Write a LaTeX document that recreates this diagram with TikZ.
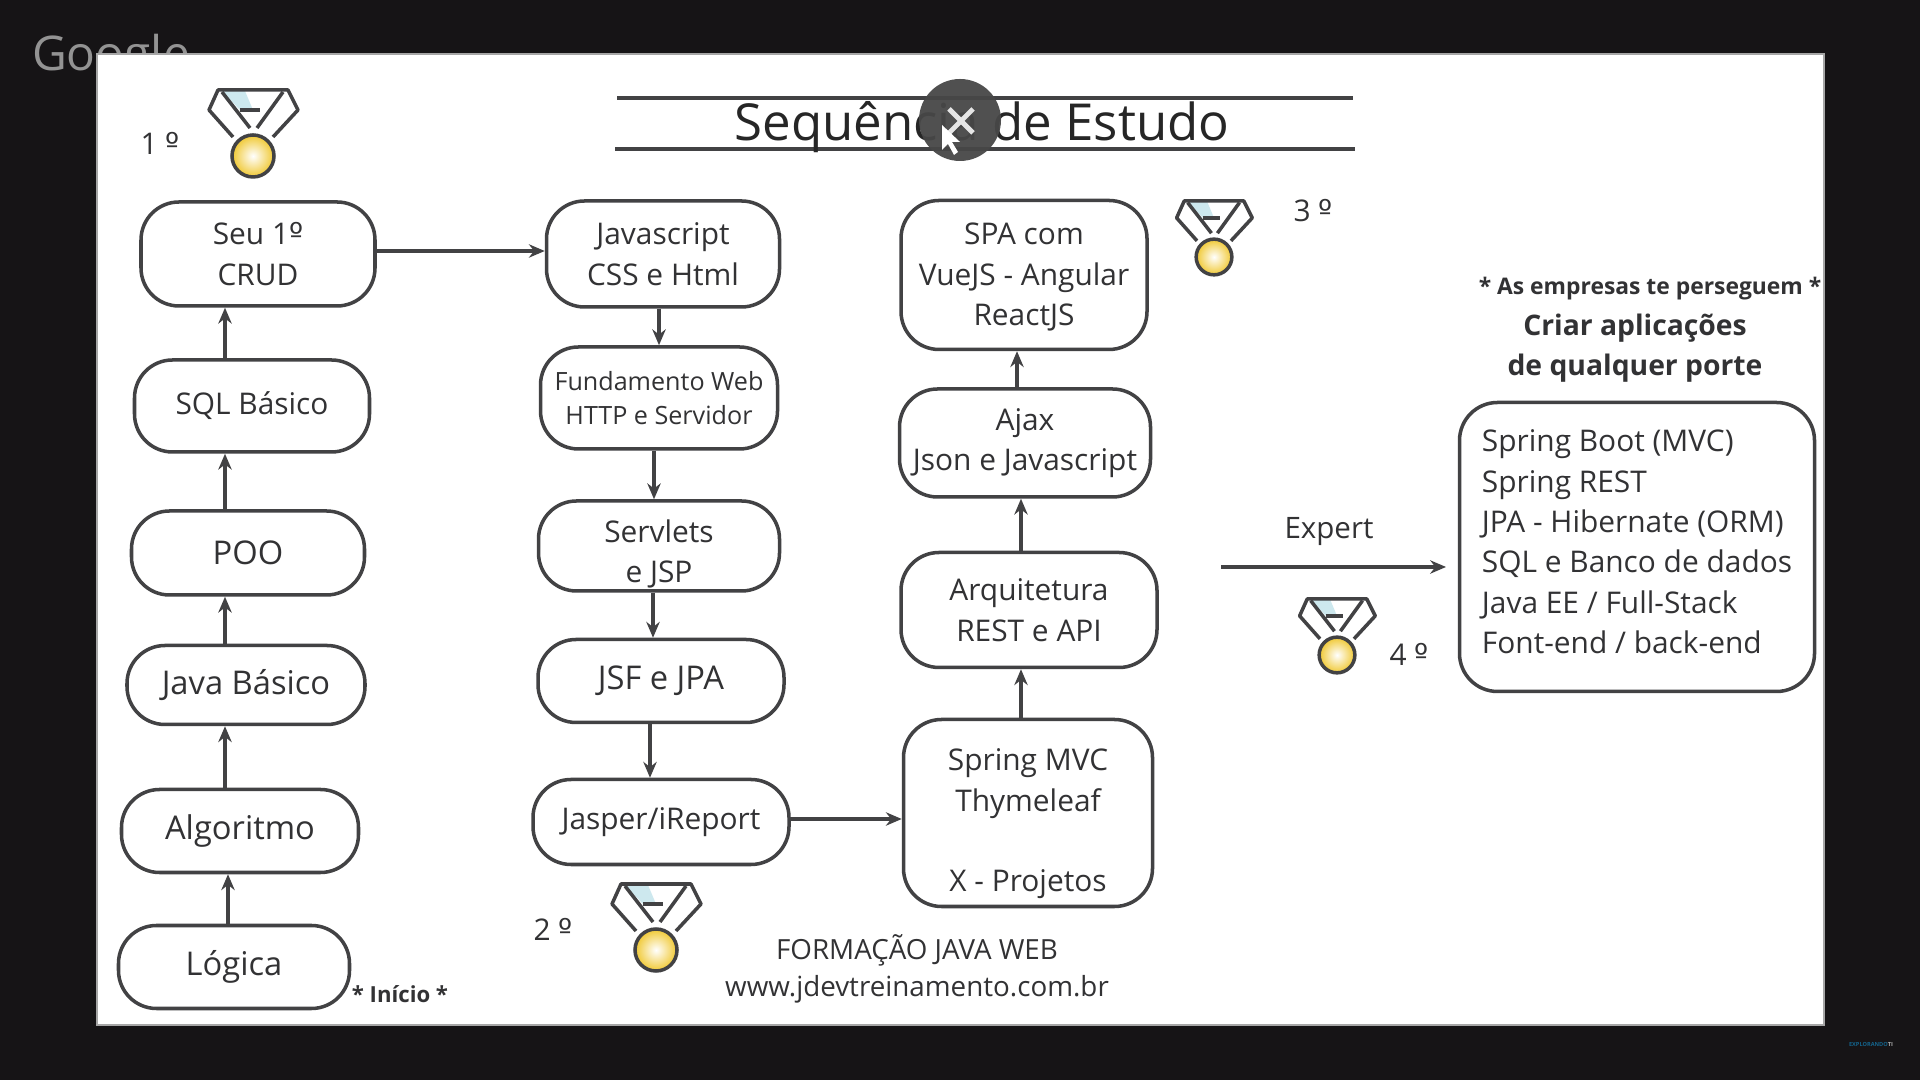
\documentclass[tikz,border=0pt]{standalone}
\usepackage{fontspec}
\setmainfont{Open Sans}
\newfontfamily\ordfont{DejaVu Sans}
\usetikzlibrary{arrows.meta,positioning,calc}
\definecolor{screenblack}{RGB}{22,20,22}
\definecolor{boxline}{RGB}{66,66,68}
\definecolor{textgrey}{RGB}{50,50,52}
\definecolor{medalgold}{RGB}{240,200,50}
\definecolor{ribbonblue}{RGB}{205,232,238}
\definecolor{brandteal}{RGB}{20,100,140}
\newcommand{\ordmark}{{\ordfont º}}
\tikzset{
  stagebox/.style={draw=boxline,line width=1pt,rounded corners=.38cm,fill=white,
    text=textgrey,align=center,inner sep=0pt,font=\fontsize{8.5}{11.5}\selectfont},
  bigtext/.style={font=\fontsize{9.3}{11.5}\selectfont},
  flow/.style={-{Stealth[length=4.5pt,width=3.8pt]},draw=boxline,line width=.9pt},
  plain/.style={text=textgrey,inner sep=0pt,font=\fontsize{8.5}{11.5}\selectfont},
  medal/.pic={
    \fill[ribbonblue] (-.31,.65) -- (-.08,.65) -- (.0,.46) -- (-.13,.46) -- cycle;
    \draw[boxline,line width=1pt,line join=round]
      (-.20,.19) -- (-.44,.46) -- (-.35,.66) -- (.35,.66) -- (.45,.46) -- (.20,.19);
    \draw[boxline,line width=1pt] (-.31,.64) -- (-.03,.28);
    \draw[boxline,line width=1pt] (.30,.64) -- (.04,.28);
    \draw[boxline,line width=1pt] (-.13,.46) -- (.07,.46);
    \shade[inner color=white,outer color=medalgold,draw=boxline,line width=1pt] (0,0) circle (.21);
  }
}
\begin{document}
\begin{tikzpicture}
    \useasboundingbox (0,0) rectangle (19.2,10.8);
    \fill[screenblack] (0,0) rectangle (19.2,10.8);
    \node[text=gray!85,inner sep=0pt,font=\fontsize{13.6}{14}\selectfont] (googlelogo) at (1.11,10.22) {Google};
    \fill[white,draw=gray!70,line width=.6pt] (.97,.55) rectangle (18.24,10.26);

    \draw[boxline,line width=1pt] (6.17,9.82) -- (13.53,9.82);
    \draw[boxline,line width=1pt] (6.15,9.31) -- (13.55,9.31);
    \node[text=black!85,inner sep=0pt,font=\fontsize{14.5}{16}\selectfont] (title) at (9.82,9.53) {Sequência de Estudo};

    \node[plain] (firstplace) at (1.60,9.37) {1 \ordmark};
    \pic at (2.53,9.24) {medal};
    \node[plain] (secondplace) at (5.53,1.51) {2 \ordmark};
    \pic at (6.56,1.30) {medal};
    \node[plain] (thirdplace) at (13.13,8.69) {3 \ordmark};
    \pic[scale=.85] at (12.14,8.23) {medal};
    \node[plain] (fourthplace) at (14.09,4.26) {4 \ordmark};
    \pic[scale=.85] at (13.37,4.25) {medal};

    \node[stagebox,minimum width=2.34cm,minimum height=1.04cm] (crud) at (2.58,8.26) {Seu 1\ordmark\\CRUD};
    \node[stagebox,minimum width=2.35cm,minimum height=.92cm] (sql) at (2.52,6.74) {SQL Básico};
    \node[stagebox,bigtext,minimum width=2.33cm,minimum height=.84cm] (poo) at (2.48,5.27) {POO};
    \node[stagebox,bigtext,minimum width=2.38cm,minimum height=.79cm] (java) at (2.46,3.95) {Java Básico};
    \node[stagebox,bigtext,minimum width=2.37cm,minimum height=.83cm] (algoritmo) at (2.40,2.49) {Algoritmo};
    \node[stagebox,bigtext,minimum width=2.31cm,minimum height=.83cm] (logica) at (2.34,1.13) {Lógica};
    \node[plain,font=\fontsize{6.3}{8}\selectfont\bfseries] (inicio) at (4.00,.86) {* Início *};

    \node[stagebox,minimum width=2.33cm,minimum height=1.06cm] (javascript) at (6.63,8.26) {Javascript\\CSS e Html};
    \node[stagebox,minimum width=2.37cm,minimum height=1.02cm,font=\fontsize{7.15}{9.7}\selectfont] (fundamento) at (6.59,6.82) {Fundamento Web\\HTTP e Servidor};
    \node[stagebox,minimum width=2.41cm,minimum height=.90cm] (servlets) at (6.59,5.34) {\rule{0pt}{11pt}Servlets\\e JSP};
    \node[stagebox,bigtext,minimum width=2.46cm,minimum height=.83cm] (jsf) at (6.61,3.99) {JSF e JPA};
    \node[stagebox,minimum width=2.56cm,minimum height=.85cm] (jasper) at (6.61,2.58) {Jasper/iReport};

    \node[stagebox,minimum width=2.46cm,minimum height=1.49cm] (spa) at (10.24,8.05) {\rule{0pt}{7.5pt}SPA com\\VueJS - Angular\\ReactJS};
    \node[stagebox,minimum width=2.51cm,minimum height=1.08cm] (ajax) at (10.25,6.37) {Ajax\\Json e Javascript};
    \node[stagebox,minimum width=2.56cm,minimum height=1.15cm] (arquitetura) at (10.29,4.70) {Arquitetura\\REST e API};
    \node[stagebox,minimum width=2.49cm,minimum height=1.87cm] (springmvc) at (10.28,2.67) {\rule{0pt}{12.5pt}Spring MVC\\Thymeleaf\\[11.5pt]X - Projetos};

    \node[stagebox,minimum width=3.55cm,minimum height=2.89cm,align=left] (expertbox) at (16.37,5.33)
      {Spring Boot (MVC)\\Spring REST\\JPA - Hibernate (ORM)\\SQL e Banco de dados\\Java EE / Full-Stack\\\rule[-3pt]{0pt}{3pt}Font-end / back-end};
    \node[plain,font=\fontsize{6.5}{8}\selectfont\bfseries] (companies) at (16.50,7.91) {* As empresas te perseguem *};
    \node[plain,font=\fontsize{8.05}{11.5}\selectfont\bfseries,align=center] (build) at (16.35,7.32) {Criar aplicações\\de qualquer porte};
    \node[plain,font=\fontsize{8.4}{11.5}\selectfont] (expert) at (13.29,5.48) {Expert};
    \coordinate (expertstart) at (12.21,5.13);
    \coordinate (expertend) at (14.46,5.13);
    \draw[flow] (expertstart) -- (expertend);

    \node[plain,font=\fontsize{7.9}{10.5}\selectfont,align=center] (brand) at (9.17,1.11) {FORMAÇÃO JAVA WEB\\www.jdevtreinamento.com.br};

    \draw[flow] ([xshift=-.06cm]logica.north) -- ([xshift=-.06cm]logica.north |- algoritmo.south);
    \draw[flow] ([xshift=-.15cm]algoritmo.north) -- ([xshift=-.15cm]algoritmo.north |- java.south);
    \draw[flow] ([xshift=-.21cm]java.north) -- ([xshift=-.21cm]java.north |- poo.south);
    \draw[flow] ([xshift=-.23cm]poo.north) -- ([xshift=-.23cm]poo.north |- sql.south);
    \draw[flow] ([xshift=-.27cm]sql.north) -- ([xshift=-.27cm]sql.north |- crud.south);
    \draw[flow] ([yshift=.03cm]crud.east) -- ([yshift=.03cm]javascript.west);
    \draw[flow] (fundamento.north |- javascript.south) -- (fundamento.north);
    \draw[flow] ([xshift=-.05cm]fundamento.south) -- ([xshift=-.05cm]fundamento.south |- servlets.north);
    \draw[flow] ([xshift=-.06cm]servlets.south) -- ([xshift=-.06cm]servlets.south |- jsf.north);
    \draw[flow] ([xshift=-.11cm]jsf.south) -- ([xshift=-.11cm]jsf.south |- jasper.north);
    \draw[flow] ([yshift=.03cm]jasper.east) -- ([yshift=.03cm]jasper.east -| springmvc.west);
    \draw[flow] ([xshift=-.07cm]springmvc.north) -- ([xshift=-.07cm]springmvc.north |- arquitetura.south);
    \draw[flow] ([xshift=-.08cm]arquitetura.north) -- ([xshift=-.08cm]arquitetura.north |- ajax.south);
    \draw[flow] ([xshift=-.08cm]ajax.north) -- ([xshift=-.08cm]ajax.north |- spa.south);

    \fill[black!72,fill opacity=.95] (9.60,9.60) circle (.41);
    \draw[white!90!black,line width=1.4pt] (9.49,9.71) -- (9.73,9.47);
    \draw[white!90!black,line width=1.4pt] (9.49,9.47) -- (9.73,9.71);
    \fill[white] (9.42,9.55) -- (9.42,9.30) -- (9.48,9.36) -- (9.54,9.25) -- (9.58,9.28) -- (9.52,9.38) -- (9.60,9.38) -- cycle;

    \node[text=brandteal,inner sep=0pt,font=\fontsize{1.6}{2}\selectfont\bfseries] (watermark) at (18.71,.36) {EXPLORANDO\textcolor{gray!60}{ TI}};
\end{tikzpicture}
\end{document}
